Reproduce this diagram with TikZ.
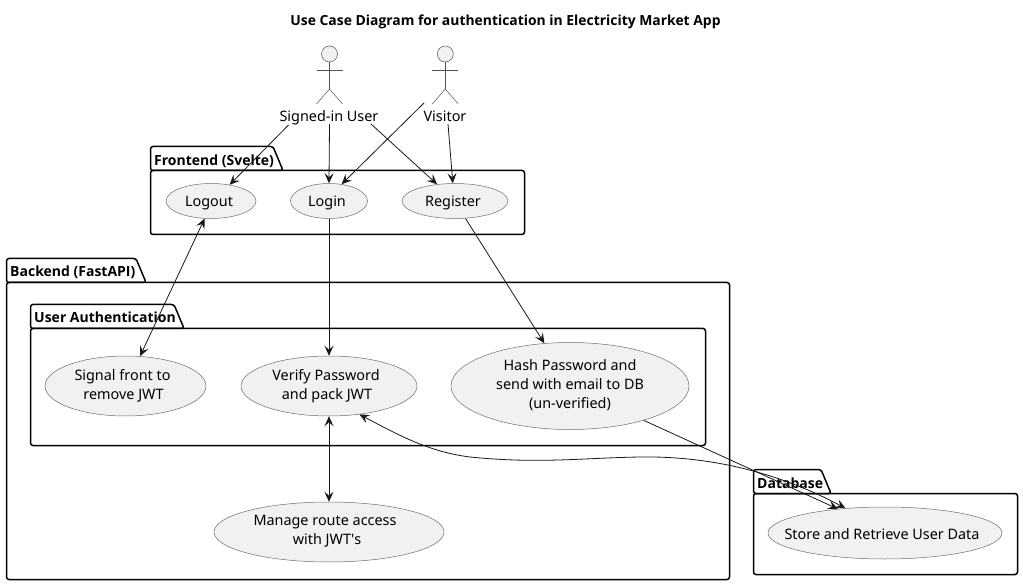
\documentclass[tikz,border=0pt]{standalone}
\usepackage{fontspec}
\setmainfont{Noto Sans}[BoldFont={Open Sans Bold}]
\newfontfamily\plainfont{Noto Sans}
\usetikzlibrary{arrows.meta,shapes.geometric}
\definecolor{ucfill}{HTML}{F1F1F1}
\definecolor{ucline}{HTML}{181818}
\definecolor{ucedge}{HTML}{6E6E6E}
\newcommand{\tallrule}{\rule{0pt}{16pt}}
\newcommand{\deeprule}{\rule[-4pt]{0pt}{4pt}}
\newcommand{\nl}{\kern2pt\\}
\tikzset{
  x=1pt,y=-1pt,
  usecase/.style={ellipse,draw=ucedge,fill=ucfill,line width=0.5pt,inner sep=0pt,align=center,font=\fontsize{14.4}{19}\selectfont,
    execute at begin node=\tallrule,execute at end node=\deeprule},
  kerned/.style={execute at end node=\deeprule\kern4pt},
  twolines/.style={execute at end node=\deeprule\kern4pt},
  threelines/.style={execute at begin node={}},
  storecase/.style={execute at begin node=\rule{0pt}{14pt}},
  pkg/.style={draw=black,line width=1.5pt,rounded corners=2.5pt},
  pkglabel/.style={font=\fontsize{14}{17}\selectfont\bfseries,anchor=base west,inner sep=0pt},
  actorline/.style={draw=ucline!75,line width=0.5pt},
  actorlabel/.style={font=\fontsize{14.4}{17}\selectfont,inner sep=0pt,anchor=base},
  link/.style={draw=ucline,line width=0.8pt,-{Stealth[length=10pt,width=9pt,inset=4pt]}},
  biglink/.style={draw=ucline,line width=0.8pt,{Stealth[length=10pt,width=9pt,inset=4pt]}-{Stealth[length=10pt,width=9pt,inset=4pt]}},
}
\newcommand{\pkgbox}[5]{% left, top, right, bottom, tab right; header line at top+24
  \draw[pkg] (#1,#2+24) -- (#1,#2) -- (#5-10,#2) -- (#5,#2+24) -- (#1,#2+24) -- cycle;
  \draw[pkg] (#1,#2+24) -- (#3,#2+24) -- (#3,#4) -- (#1,#4) -- cycle;
}
\newcommand{\actorfig}[2]{% centre x, head top y
  \draw[actorline,fill=ucfill] (#1,#2+8) circle[radius=8];
  \draw[actorline] (#1,#2+16) -- (#1,#2+43);
  \draw[actorline] (#1-13,#2+24) -- (#1+13,#2+24);
  \draw[actorline] (#1-13,#2+58) -- (#1,#2+43) -- (#1+13,#2+58);
}
\begin{document}
\begin{tikzpicture}
\useasboundingbox (0,0) rectangle (1023,585);
\node[font=\fontsize{13.9}{16}\selectfont\bfseries,inner sep=0pt,anchor=base] (title) at (505.5,26) {Use Case Diagram for authentication in Electricity Market App};

\pkgbox{150.5}{146.5}{524.5}{234.5}{283}
\pkgbox{6.5}{258.5}{729.5}{579.5}{146}
\pkgbox{30.5}{304.5}{705.5}{445.5}{184}
\pkgbox{753.5}{469.5}{1017.5}{574.5}{831}
\node[pkglabel] (front) at (154,166) {Frontend (Svelte)};
\node[pkglabel] (back) at (10,277) {Backend (FastAPI)};
\node[pkglabel] (auth) at (34,323) {User Authentication};
\node[pkglabel] (db) at (757,488) {Database};

\actorfig{329.5}{46}
\actorfig{445.3}{46}
\node[actorlabel] (signed) at (329,122) {Signed-in User};
\node[actorlabel] (visitor) at (445,122) {Visitor};
\coordinate (visitorhand) at (424,103);
\coordinate (signedleft) at (288.5,125);
\coordinate (signedmid) at (329.5,124);
\coordinate (signedright) at (371,124);
\coordinate (visitorfoot) at (448,124);

\node[usecase,kerned,minimum width=90pt,minimum height=35pt] (logout) at (211,201) {Logout};
\node[usecase,kerned,minimum width=77pt,minimum height=35pt] (login) at (329,201) {Login};
\node[usecase,kerned,minimum width=106pt,minimum height=35pt] (register) at (455,201) {Register};
\node[usecase,twolines,minimum width=161pt,minimum height=60pt] (signal) at (125.5,386) {Signal front to\nl remove JWT};
\node[usecase,twolines,minimum width=176pt,minimum height=60pt] (verify) at (329,386) {Verify Password\nl and pack JWT};
\node[usecase,threelines,minimum width=238pt,minimum height=87pt] (hash) at (570,386) {Hash Password and\\send with email to DB\\(un-verified)};
\node[usecase,twolines,minimum width=230pt,minimum height=60pt] (manage) at (329,532) {Manage route access\kern4pt\\with JWT{\plainfont '}s};
\node[usecase,storecase,minimum width=234pt,minimum height=52pt] (store) at (885,533) {\makebox[0pt]{Store and Retrieve User Data\kern6pt}};

\draw[link] (signedleft) -- (logout.41);
\draw[link] (signedmid) -- (login.90);
\draw[link] (signedright) -- (register.137);
\draw[link] (visitorhand) -- (login.53);
\draw[link] (visitorfoot) -- (register.97);
\draw[biglink] (logout.250) -- (signal.64);
\draw[link] (login.270) -- (verify.90);
\draw[link] (register.301) -- (hash.121);
\draw[biglink] (verify.270) -- (manage.90);
\draw[link] (hash.-25) -- (store.153);
\draw[biglink] (verify.-43) .. controls (400,436) and (430,452) .. (470,457) .. controls (540,464) and (580,458) .. (640,457) .. controls (700,456) and (770,468) .. (store.148);
\end{tikzpicture}
\end{document}
